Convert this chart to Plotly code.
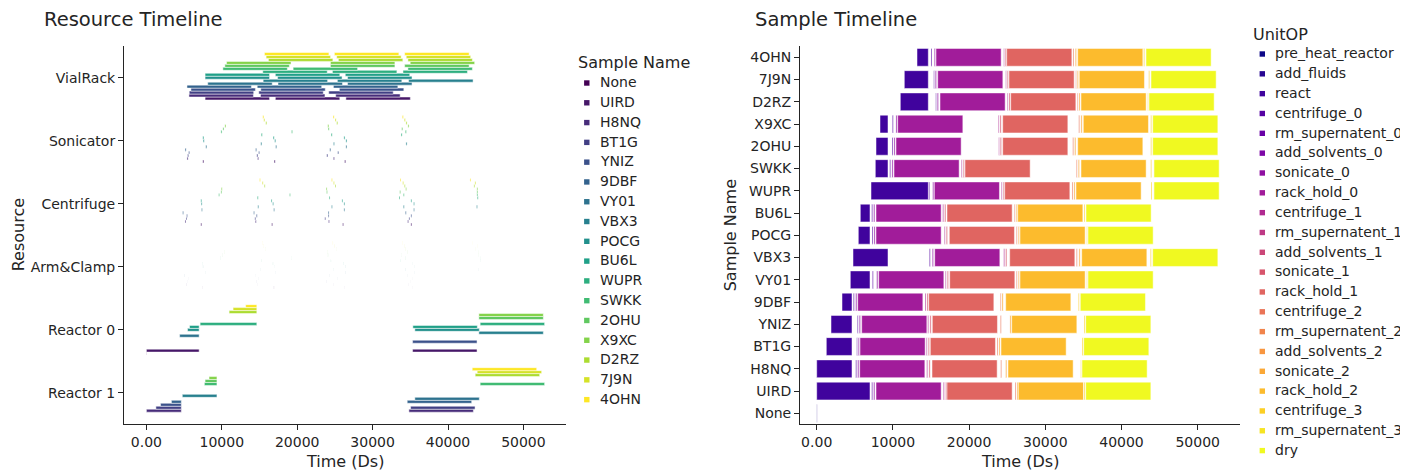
import plotly.graph_objects as go
import plotly.express as px

# ---------------- data ----------------
SAMPLES = ["None", "UIRD", "H8NQ", "BT1G", "YNIZ", "9DBF", "VY01", "VBX3", "POCG",
           "BU6L", "WUPR", "SWKK", "2OHU", "X9XC", "D2RZ", "7J9N", "4OHN"]
# per-sample values below follow SAMPLES[1:]
REAL = SAMPLES[1:]
react_start = [0, 0, 1260, 1877, 3320, 4409, 4764, 5459, 5722, 7126, 7690, 7782, 8307, 10971, 11496, 13162]
react_end = [6995, 4632, 4632, 4632, 4632, 6995, 9357, 6995, 6995, 14645, 9357, 9357, 9357, 14645, 14645, 14645]
react_reactor = ["Reactor 0", "Reactor 1", "Reactor 1", "Reactor 1", "Reactor 1", "Reactor 0", "Reactor 1", "Reactor 0",
                 "Reactor 0", "Reactor 0", "Reactor 1", "Reactor 1", "Reactor 1", "Reactor 0", "Reactor 0", "Reactor 0"]
centrifuge_0 = [7218, 5118, 5249, 5328, 4803, 7300, 14776, 7257, 7218, 14700, 9580, 9882, 9921, 15616, 15354, 14999]
sonicate_0 = [7480, 5380, 5459, 5590, 5118, 7874, 15170, 7520, 7480, 15223, 9882, 10144, 10407, 15826, 15564, 15433]
rack_hold_0 = [7782, 5643, 5682, 5905, 5380, 8136, 15485, 7782, 7782, 15433, 10144, 10407, 10630, 16181, 15879, 15656]
centrifuge_1 = [16614, 14435, 14383, 14567, 14212, 16876, 24540, 16745, 16535, 24225, 18976, 23884, 23832, 25013, 24802, 24540]
sonicate_1 = [16929, 14737, 14645, 14868, 14475, 17139, 24802, 17008, 16797, 24488, 19238, 24094, 24055, 25236, 25013, 24750]
rack_hold_1 = [17100, 15131, 14908, 15170, 14698, 17454, 25327, 17401, 17100, 24671, 19461, 24409, 24409, 25459, 25236, 24934]
centrifuge_2 = [26023, 24146, 23661, 24094, 24094, 26193, 34067, 26193, 25931, 33503, 34067, 33595, 34383, 34199, 33989, 33634]
sonicate_2 = [26285, 24800, 23923, 25367, 24317, 26456, 34422, 26456, 26193, 33765, 34330, 33857, 34684, 34422, 34199, 33936]
rack_hold_2 = [26456, 25104, 24186, 25590, 24802, 26679, 34776, 26679, 26377, 34028, 34684, 34251, 34986, 34684, 34461, 34251]
centrifuge_3 = [35078, 34645, 34815, 35078, 34330, 35432, 43778, 35432, 35078, 43871, 43831, 43831, 43831, 43437, 43568, 42912]
dry_start = [35301, 34815, 35038, 35301, 34592, 35603, 44094, 35603, 35340, 44265, 44265, 44094, 44094, 43608, 43871, 43214]
dry_reactor = ["Reactor 0", "Reactor 1", "Reactor 1", "Reactor 0", "Reactor 1", "Reactor 1", "Reactor 0", "Reactor 0",
               "Reactor 0", "Reactor 0", "Reactor 1", "Reactor 0", "Reactor 0", "Reactor 1", "Reactor 1", "Reactor 1"]
# durations (Ds) of the fixed-length steps
DUR = {"pre_heat_reactor": 30, "add_fluids": 30, "centrifuge": 130, "rm_supernatent": 10,
       "add_solvents": 10, "sonicate": 150, "rack_hold": 8550, "dry": 8550}

UNIT_OPS = ["pre_heat_reactor", "add_fluids", "react",
            "centrifuge_0", "rm_supernatent_0", "add_solvents_0", "sonicate_0", "rack_hold_0",
            "centrifuge_1", "rm_supernatent_1", "add_solvents_1", "sonicate_1", "rack_hold_1",
            "centrifuge_2", "rm_supernatent_2", "add_solvents_2", "sonicate_2", "rack_hold_2",
            "centrifuge_3", "rm_supernatent_3", "dry"]
RESOURCES = ["Reactor 1", "Reactor 0", "Arm&Clamp", "Centrifuge", "Sonicator", "VialRack"]
TICK_VALS = [0, 10000, 20000, 30000, 40000, 50000]
TICK_TEXT = ["0.00", "10000", "20000", "30000", "40000", "50000"]

SAMPLE_COLORS = px.colors.sample_colorscale("Viridis", [i / 16 for i in range(17)])
OP_COLORS = px.colors.sample_colorscale("Plasma", [i / 20 for i in range(21)])

# ---------------- build schedule: (sample, op, resource, start, duration) ----------------
rows = [("None", "pre_heat_reactor", "Reactor 0", 0, DUR["pre_heat_reactor"]),
        ("None", "add_fluids", "Reactor 0", DUR["pre_heat_reactor"], DUR["add_fluids"])]
cents = [centrifuge_0, centrifuge_1, centrifuge_2]
sons = [sonicate_0, sonicate_1, sonicate_2]
racks = [rack_hold_0, rack_hold_1, rack_hold_2]
for i, s in enumerate(REAL):
    rows.append((s, "react", react_reactor[i], react_start[i], react_end[i] - react_start[i]))
    for k in range(3):
        c, so, r = cents[k][i], sons[k][i], racks[k][i]
        rows.append((s, f"centrifuge_{k}", "Centrifuge", c, DUR["centrifuge"]))
        rows.append((s, f"rm_supernatent_{k}", "Arm&Clamp", so - DUR["add_solvents"] - DUR["rm_supernatent"], DUR["rm_supernatent"]))
        rows.append((s, f"add_solvents_{k}", "Arm&Clamp", so - DUR["add_solvents"], DUR["add_solvents"]))
        rows.append((s, f"sonicate_{k}", "Sonicator", so, DUR["sonicate"]))
        rows.append((s, f"rack_hold_{k}", "VialRack", r, DUR["rack_hold"]))
    rows.append((s, "centrifuge_3", "Centrifuge", centrifuge_3[i], DUR["centrifuge"]))
    rows.append((s, "rm_supernatent_3", "Arm&Clamp", dry_start[i] - DUR["rm_supernatent"], DUR["rm_supernatent"]))
    rows.append((s, "dry", dry_reactor[i], dry_start[i], DUR["dry"]))

fig = go.Figure()
line = dict(color="white", width=0.5)

# left: resource timeline, one trace per sample (grouped)
for s, col in zip(SAMPLES, SAMPLE_COLORS):
    sel = [r for r in rows if r[0] == s]
    fig.add_trace(go.Bar(orientation="h", y=[r[2] for r in sel], x=[r[4] for r in sel],
                         base=[r[3] for r in sel], marker=dict(color=col, line=line),
                         name=s, showlegend=False, xaxis="x", yaxis="y"))
# right: sample timeline, one trace per unit op (overlaid in one offset group)
for op, col in zip(UNIT_OPS, OP_COLORS):
    sel = [r for r in rows if r[1] == op]
    fig.add_trace(go.Bar(orientation="h", y=[r[0] for r in sel], x=[r[4] for r in sel],
                         base=[r[3] for r in sel], marker=dict(color=col, line=line),
                         name=op, offsetgroup="ops", showlegend=False, xaxis="x2", yaxis="y2"))

# ---------------- layout (page is drawn 8px in from the window corner) ----------------
W, H = 1408, 471
OFF = 8


def px_x(v):
    return (v - OFF) / W


def px_y(v):
    return 1 - (v - OFF) / H


ydom = [px_y(424.4), px_y(46.2)]
TXT = "rgb(36,36,36)"
axis_common = dict(showline=True, linecolor=TXT, linewidth=1, ticks="outside", ticklen=5,
                   tickcolor=TXT, showgrid=False, zeroline=False, automargin=False,
                   tickfont=dict(size=14))

annotations = []
shapes = []


def label(text, x, y, size, angle=0, anchor="left"):
    annotations.append(dict(text=text, x=px_x(x), y=px_y(y), xref="paper", yref="paper",
                            xanchor=anchor, yanchor="middle", showarrow=False,
                            textangle=angle, font=dict(size=size)))


label("Resource Timeline", 41.5, 20, 19.5)
label("Sample Timeline", 752.5, 20, 19.5)
label("Resource", 18, 235.3, 16, angle=-90, anchor="center")
label("Sample Name", 730, 235.3, 16, angle=-90, anchor="center")
label("Time (Ds)", 345, 461.5, 16, anchor="center")
label("Time (Ds)", 1020, 461.5, 16, anchor="center")


# legends: title, small square key, entry text
def legend_block(title, names, colors, title_x, title_y, key_x, text_x, first_y, step):
    label(title, title_x - 1.5, title_y, 16)
    for j, (n, c) in enumerate(zip(names, colors)):
        yy = first_y + j * step
        shapes.append(dict(type="rect", xref="paper", yref="paper", opacity=1, layer="above",
                           x0=px_x(key_x - 2.7), x1=px_x(key_x + 2.7),
                           y0=px_y(yy + 0.7 + 2.7), y1=px_y(yy + 0.7 - 2.7),
                           fillcolor=c, line=dict(width=0)))
        label(n, text_x - 1.5, yy, 14)


legend_block("Sample Name", SAMPLES, SAMPLE_COLORS, 577.3, 62.7, 586.8, 599.3, 82.3, 19.79)
legend_block("UnitOP", UNIT_OPS, OP_COLORS, 1252.7, 35, 1262.3, 1274, 53.3, 19.83)

fig.update_layout(
    width=W, height=H, template="simple_white",
    barmode="group", bargap=0.2, showlegend=False,
    margin=dict(l=0, r=0, t=0, b=0),
    paper_bgcolor="white", plot_bgcolor="white",
    font=dict(family="DejaVu Sans", size=14, color=TXT),
    xaxis=dict(domain=[px_x(124), px_x(566)], anchor="y", range=[-2971, 55650],
               tickmode="array", tickvals=TICK_VALS, ticktext=TICK_TEXT, **axis_common),
    yaxis=dict(domain=ydom, anchor="x", type="category", categoryorder="array",
               categoryarray=RESOURCES, range=[-0.5, 5.5], **axis_common),
    xaxis2=dict(domain=[px_x(800), px_x(1240)], anchor="y2", range=[-2192, 55551],
                tickmode="array", tickvals=TICK_VALS, ticktext=TICK_TEXT, **axis_common),
    yaxis2=dict(domain=ydom, anchor="x2", type="category", categoryorder="array",
                categoryarray=SAMPLES, range=[-0.5, 16.5], **axis_common),
    annotations=annotations,
    shapes=shapes,
)
fig.write_html("out.html")
